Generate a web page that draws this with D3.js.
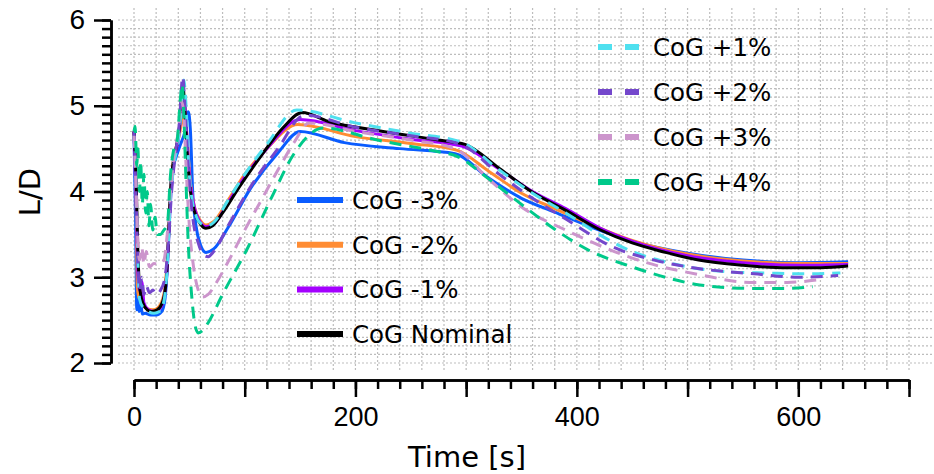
<!DOCTYPE html>
<html>
  <head>
    <meta charset="utf-8">
    <script src="https://cdn.jsdelivr.net/npm/d3@7"></script>
    <style>
      body { margin: 0; background: white; }
      svg { display: block; font-family: "DejaVu Sans", Verdana, sans-serif; }
      .grid line { stroke: #bdbdbd; stroke-width: 1.2; stroke-dasharray: 2,2; }
      .axis path, .axis line { stroke: black; stroke-width: 2.5; }
      .axis text { fill: black; }
    </style>
  </head>
  <body>
    <svg id="chart" width="934" height="474"></svg>
    <script>
      // series: [time s, L/D]
      var cogM3 = [[0,4.65],[1.5,3.6],[2.5,2.62],[3.5,2.9],[4.5,2.6],[6,2.7],[7.5,2.57],[10,2.58],[15,2.56],[20,2.56],[25,2.6],[28,2.75],[30,3.1],[32,3.7],[34,4.2],[38,4.4],[42,4.55],[46,4.7],[49,4.93],[51,4.7],[53,4.0],[56,3.6],[60,3.38],[65,3.29],[72,3.33],[85,3.58],[105,4.03],[130,4.45],[150,4.70],[190,4.57],[240,4.5],[290,4.44],[320,4.16],[350,3.92],[380,3.76],[410,3.6],[450,3.42],[500,3.28],[550,3.2],[600,3.17],[645,3.18]];
      var cogM2 = [[0,4.7],[2,3.8],[3,2.9],[4.5,2.75],[6,2.95],[8,2.7],[12,2.63],[17,2.62],[22,2.65],[27,2.8],[30,3.2],[33,4.0],[36,4.4],[40,4.6],[43,4.8],[46,4.95],[48,4.6],[51,4.1],[55,3.8],[60,3.66],[65,3.61],[72,3.65],[85,3.9],[100,4.2],[120,4.5],[148,4.78],[200,4.64],[250,4.56],[292,4.48],[320,4.24],[350,3.98],[380,3.8],[410,3.63],[450,3.43],[500,3.27],[550,3.19],[600,3.16],[645,3.16]];
      var cogM1 = [[0,4.7],[2,3.9],[3.5,3.05],[5,2.85],[7,2.95],[9,2.7],[13,2.62],[18,2.6],[23,2.63],[27,2.75],[30,3.1],[33,3.9],[36,4.35],[40,4.6],[43,4.95],[45,5.1],[47,4.8],[50,4.2],[54,3.85],[60,3.64],[65,3.59],[72,3.62],[85,3.87],[100,4.17],[120,4.5],[150,4.84],[200,4.71],[250,4.61],[296,4.53],[330,4.26],[360,4.0],[390,3.8],[420,3.58],[450,3.42],[500,3.25],[550,3.17],[600,3.14],[645,3.15]];
      var cogNom = [[0,4.70],[2,4.1],[3.5,3.3],[5,2.9],[8,2.7],[12,2.62],[16,2.60],[21,2.62],[26,2.72],[29,2.95],[31,3.4],[33,4.0],[35,4.3],[38,4.5],[41,4.75],[44,5.24],[46,4.95],[48,4.45],[51,4.0],[55,3.75],[60,3.62],[65,3.57],[71,3.6],[80,3.75],[95,4.05],[115,4.42],[135,4.75],[152,4.92],[175,4.82],[225,4.7],[275,4.6],[299,4.55],[330,4.27],[360,3.99],[390,3.78],[420,3.56],[450,3.4],[480,3.29],[510,3.2],[550,3.14],[590,3.11],[620,3.11],[645,3.13]];
      var cogP1 = [[0,4.65],[2,4.0],[3.5,3.2],[5,2.75],[8,2.65],[13,2.6],[18,2.58],[23,2.6],[27,2.72],[30,3.1],[33,3.9],[36,4.3],[40,4.6],[43,5.0],[45,5.3],[47,5.0],[49,4.4],[52,3.95],[56,3.72],[61,3.62],[66,3.6],[72,3.64],[85,3.9],[100,4.2],[120,4.55],[147,4.95],[200,4.8],[250,4.68],[295,4.58],[330,4.25],[360,3.98],[390,3.75],[420,3.5],[450,3.3],[480,3.18],[510,3.1],[540,3.06],[570,3.05],[610,3.04],[638,3.05]];
      var cogP2 = [[0,4.7],[2,3.9],[3.5,3.2],[5,2.85],[7,3.0],[9,2.8],[11,2.9],[14,2.82],[17,2.85],[20,2.8],[24,2.85],[28,3.0],[31,3.4],[34,4.0],[37,4.4],[41,4.8],[44,5.34],[46,5.0],[49,4.3],[53,3.7],[58,3.4],[63,3.26],[67,3.24],[72,3.3],[85,3.6],[105,4.05],[130,4.5],[154,4.89],[200,4.75],[250,4.65],[295,4.55],[330,4.2],[360,3.92],[390,3.68],[433,3.35],[470,3.2],[511,3.1],[560,3.04],[600,3.0],[636,3.02]];
      var cogP3 = [[0,4.65],[2,4.0],[3.5,3.4],[5,3.2],[7,3.35],[9,3.15],[11,3.3],[14,3.12],[18,3.16],[23,3.15],[27,3.2],[30,3.5],[33,4.0],[36,4.4],[40,4.7],[43,5.05],[45,4.9],[47,4.3],[50,3.6],[54,3.1],[58,2.85],[62,2.77],[67,2.8],[75,2.95],[85,3.18],[100,3.55],[115,3.9],[130,4.25],[145,4.58],[158,4.8],[200,4.7],[250,4.6],[290,4.5],[320,4.15],[350,3.82],[390,3.55],[430,3.32],[463,3.17],[511,3.03],[556,2.94],[590,2.94],[618,2.97]];
      var cogP4 = [[0,4.7],[1,4.76],[2.5,4.3],[3.5,4.5],[5,4.0],[6,4.35],[7.5,3.85],[9,4.2],[10.5,3.75],[12,4.0],[13.5,3.6],[15,3.85],[17,3.55],[19,3.7],[21,3.5],[24,3.5],[27,3.55],[30,3.6],[33,4.2],[36,4.5],[39,4.6],[42,5.1],[43.5,5.25],[45,4.9],[47,4.1],[49,3.4],[52,2.8],[55,2.45],[58,2.35],[62,2.38],[67,2.47],[80,2.8],[103,3.35],[125,3.95],[145,4.45],[171,4.74],[220,4.6],[276,4.46],[290,4.42],[320,4.15],[350,3.85],[380,3.56],[410,3.32],[450,3.12],[480,3.0],[511,2.91],[556,2.87],[590,2.87],[613,2.89]];

      var solidNames = ["CoG -3%", "CoG -2%", "CoG -1%", "CoG Nominal"];
      var solidColors = ["#0a5cff", "#ff8c33", "#a400ff", "#000000"];
      var dashedNames = ["CoG +1%", "CoG +2%", "CoG +3%", "CoG +4%"];
      var dashedColors = ["#4fe0ef", "#7447cc", "#cc95cc", "#00c98a"];

      var yTicks = [2, 3, 4, 5, 6];
      var xTicks = [0, 100, 200, 300, 400, 500, 600, 700];
      var xLabels = ["0", "", "200", "", "400", "", "600", ""];

      var solidData = [cogM3, cogM2, cogM1, cogNom];
      var dashedData = [cogP1, cogP2, cogP3, cogP4];

      var svg = d3.select("#chart");

      var x = d3.scaleLinear().domain([0, 700]).range([134, 909]);
      var y = d3.scaleLinear().domain([2, 6]).range([363, 20]);

      // grid
      var grid = svg.append("g").attr("class", "grid");
      grid.selectAll(".h").data(d3.range(20, 61).map(function(d) { return d / 10; }))
        .enter().append("line")
        .attr("x1", 118).attr("x2", 934)
        .attr("y1", function(d) { return y(d); }).attr("y2", function(d) { return y(d); });
      grid.selectAll(".v").data(d3.range(0, 701, 20))
        .enter().append("line")
        .attr("y1", 8).attr("y2", 372)
        .attr("x1", function(d) { return x(d); }).attr("x2", function(d) { return x(d); });

      // axes
      var yMinor = d3.range(20, 61).map(function(d) { return d / 10; });
      svg.append("g").attr("class", "axis")
        .attr("transform", "translate(111,0)")
        .call(d3.axisLeft(y).tickValues(yMinor).tickSize(9).tickSizeOuter(0).tickFormat(""));
      svg.append("g").attr("class", "axis")
        .attr("transform", "translate(111,0)")
        .call(d3.axisLeft(y).tickValues(yTicks).tickSize(17).tickSizeOuter(0).tickPadding(9).tickFormat(d3.format("d")))
        .selectAll("text").style("font-size", "28px");

      svg.append("g").attr("class", "axis")
        .attr("transform", "translate(0,380)")
        .call(d3.axisBottom(x).tickValues(d3.range(0, 701, 20)).tickSize(9).tickSizeOuter(0).tickFormat(""));
      svg.append("g").attr("class", "axis")
        .attr("transform", "translate(0,380)")
        .call(d3.axisBottom(x).tickValues(xTicks).tickSize(17).tickSizeOuter(0).tickPadding(10)
          .tickFormat(function(d, i) { return xLabels[i]; }))
        .selectAll("text").style("font-size", "27px");

      svg.append("text")
        .attr("x", 467).attr("y", 467)
        .attr("text-anchor", "middle")
        .style("font-size", "29px")
        .text("Time [s]");
      svg.append("text")
        .attr("transform", "translate(40,192) rotate(-90)")
        .attr("text-anchor", "middle")
        .style("font-size", "29px")
        .text("L/D");

      // lines
      var line = d3.line()
        .x(function(d) { return x(d[0]); })
        .y(function(d) { return y(d[1]); })
        .curve(d3.curveMonotoneX);

      svg.append("g").selectAll("path").data(solidData)
        .enter().append("path")
        .attr("d", line)
        .attr("fill", "none")
        .attr("stroke", function(d, i) { return solidColors[i]; })
        .attr("stroke-width", 3);

      svg.append("g").selectAll("path").data(dashedData)
        .enter().append("path")
        .attr("d", line)
        .attr("fill", "none")
        .attr("stroke", function(d, i) { return dashedColors[i]; })
        .attr("stroke-width", 3)
        .attr("stroke-dasharray", "12,8");

      // legends
      var leg1 = svg.append("g").selectAll("g").data(solidNames)
        .enter().append("g")
        .attr("transform", function(d, i) { return "translate(297," + (200 + i * 44.7) + ")"; });
      leg1.append("line").attr("x1", 0).attr("x2", 46)
        .attr("stroke", function(d, i) { return solidColors[i]; })
        .attr("stroke-width", 6);
      leg1.append("text").attr("x", 55).attr("dy", "0.36em")
        .style("font-size", "24.5px")
        .text(function(d) { return d; });

      var leg2 = svg.append("g").selectAll("g").data(dashedNames)
        .enter().append("g")
        .attr("transform", function(d, i) { return "translate(598," + (47 + i * 45) + ")"; });
      leg2.append("line").attr("x1", 0).attr("x2", 42)
        .attr("stroke", function(d, i) { return dashedColors[i]; })
        .attr("stroke-width", 6)
        .attr("stroke-dasharray", "14,13");
      leg2.append("text").attr("x", 55).attr("dy", "0.36em")
        .style("font-size", "24.5px")
        .text(function(d) { return d; });
    </script>
  </body>
</html>
